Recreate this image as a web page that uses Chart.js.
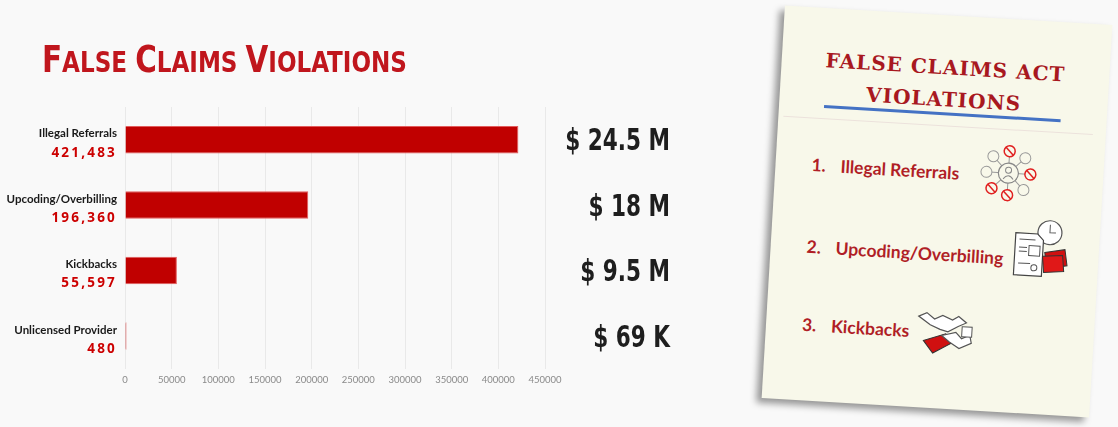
<!DOCTYPE html>
<html>
<head>
<meta charset="utf-8">
<script src="https://cdn.jsdelivr.net/npm/chart.js@4"></script>
<style>
  html, body { margin: 0; padding: 0; background: #f9f9f9; }
  body { width: 1118px; height: 427px; position: relative; overflow: hidden; }
  #chartBox { position: absolute; left: 0; top: 0; width: 740px; height: 427px; }
  .card {
    position: absolute; left: 773px; top: 15px; width: 328px; height: 393px;
    background: #f8f8ea; transform: rotate(3.4deg);
    box-shadow: -5px 5px 7px rgba(0,0,0,0.4);
  }
  .card h2 {
    position: absolute; left: 0; top: 36px; width: 100%; margin: 0;
    text-align: center; font: bold 20px/32px "DejaVu Serif", serif;
    letter-spacing: 1px; color: #a8181f;
  }
  .card .rule { position: absolute; left: 45px; top: 97px; width: 237px; height: 2.5px; background: #4472c4; }
  .card .faint { position: absolute; left: 5px; top: 110px; width: 310px; height: 1px; background: #ece2dc; }
  .item { position: absolute; left: 36px; font: bold 17.5px Lato, sans-serif; color: #b01e26; transform: translateY(-50%); }
  .item span { display: inline-block; width: 29px; }
  .card svg { position: absolute; }
</style>
</head>
<body>
<div id="chartBox"><canvas id="fcChart" width="740" height="427"></canvas></div>

<div class="card">
  <h2>FALSE CLAIMS ACT<br>VIOLATIONS</h2>
  <div class="rule"></div>
  <div class="faint"></div>
  <div class="item" style="top:157px"><span>1.</span>Illegal Referrals</div>
  <div class="item" style="top:239px"><span>2.</span>Upcoding/Overbilling</div>
  <div class="item" style="top:317px"><span>3.</span>Kickbacks</div>

  <!-- network icon -->
  <svg style="left:201px; top:122px" width="64" height="64" viewBox="-32 -32 64 64">
    <g stroke="#999" stroke-width="1" fill="none">
      <line x1="0" y1="0" x2="0" y2="-22"/><line x1="0" y1="0" x2="16" y2="-16"/>
      <line x1="0" y1="0" x2="22" y2="0"/><line x1="0" y1="0" x2="16" y2="16"/>
      <line x1="0" y1="0" x2="0" y2="22"/><line x1="0" y1="0" x2="-16" y2="16"/>
      <line x1="0" y1="0" x2="-22" y2="0"/><line x1="0" y1="0" x2="-16" y2="-16"/>
    </g>
    <circle r="10" fill="#f8f8ea" stroke="#888" stroke-width="1.2"/>
    <circle cy="-3" r="3" fill="none" stroke="#888"/><path d="M-5 6 Q0 -1 5 6" fill="none" stroke="#888"/>
    <g fill="#f8f8ea" stroke="#999" stroke-width="1">
      <circle cx="16" cy="-16" r="5.5"/><circle cx="16" cy="16" r="5.5"/>
      <circle cx="-22" cy="0" r="5.5"/><circle cx="-16" cy="-16" r="5.5"/>
    </g>
    <g fill="#f8f8ea" stroke="#e02020" stroke-width="1.5">
      <circle cx="0" cy="-22" r="5.5"/><circle cx="22" cy="0" r="5.5"/>
      <circle cx="0" cy="22" r="5.5"/><circle cx="-16" cy="16" r="5.5"/>
      <line x1="-4" y1="-26" x2="4" y2="-18"/><line x1="18" y1="-4" x2="26" y2="4"/>
      <line x1="-4" y1="18" x2="4" y2="26"/><line x1="-20" y1="12" x2="-12" y2="20"/>
    </g>
  </svg>

  <!-- invoice icon -->
  <svg style="left:240px; top:197px" width="60" height="62" viewBox="0 0 60 62">
    <circle cx="38" cy="14" r="12" fill="#fff" stroke="#555" stroke-width="1.2"/>
    <path d="M38 6 V14 H44" stroke="#555" fill="none"/>
    <path d="M4 16 H26 L32 22 V58 H4 Z" fill="#fff" stroke="#444" stroke-width="1.2"/>
    <g stroke="#555" stroke-width="1">
      <line x1="8" y1="22" x2="24" y2="22"/><line x1="8" y1="30" x2="16" y2="30"/>
      <rect x="18" y="28" width="11" height="10" fill="none"/><line x1="8" y1="34" x2="16" y2="34"/>
      <line x1="8" y1="46" x2="20" y2="46"/><circle cx="24" cy="50" r="3" fill="none"/>
    </g>
    <path d="M34 34 L54 30 L57 46 L37 50 Z" fill="#d01010" stroke="#333"/>
    <path d="M32 38 L52 36 L54 52 L34 54 Z" fill="#e01818" stroke="#333"/>
  </svg>

  <!-- handshake icon -->
  <svg style="left:150px; top:296px" width="60" height="50" viewBox="0 0 60 50">
    <path d="M2 6 L10 2 L18 8 L26 4 L36 8 L42 4 L50 10 L42 14 L32 20 L24 18 L14 14 Z" fill="#fff" stroke="#555" stroke-width="1.2"/>
    <path d="M8 30 L30 22 L38 30 L18 42 Z" fill="#d01010" stroke="#333"/>
    <path d="M26 24 L40 20 L46 26 L54 22 L56 30 L44 36 L34 30 Z" fill="#fff" stroke="#555" stroke-width="1.2"/>
    <rect x="46" y="14" width="10" height="10" fill="#fff" stroke="#555"/>
  </svg>
</div>

<script>
// categories and values
const categories = ["Illegal Referrals", "Upcoding/Overbilling", "Kickbacks", "Unlicensed Provider"];
const violationCounts = [421483, 196360, 55597, 480];
const valueLabels = ["421,483", "196,360", "55,597", "480"];
const dollarAmounts = ["$ 24.5 M", "$ 18 M", "$ 9.5 M", "$ 69 K"];
const xTicks = [0, 50000, 100000, 150000, 200000, 250000, 300000, 350000, 400000, 450000];

const titleText = "False Claims Violations";

// draws the small caps title, the two-line category labels and the dollar amounts
const labelsPlugin = {
    id: "labelsPlugin",
    afterDraw(chart) {
        const ctx = chart.ctx;
        const y = chart.scales.y;
        ctx.save();

        /* TITLE (fake small caps) */
        const bigFont = "bold 37px 'DejaVu Sans Condensed', sans-serif";
        const smallFont = "bold 29px 'DejaVu Sans Condensed', sans-serif";
        const parts = [];
        titleText.split(" ").forEach((w, i) => {
            if (i > 0) parts.push({ t: " ", f: smallFont });
            parts.push({ t: w[0].toUpperCase(), f: bigFont });
            parts.push({ t: w.slice(1).toUpperCase(), f: smallFont });
        });
        let total = 0;
        parts.forEach(p => { ctx.font = p.f; p.w = ctx.measureText(p.t).width; total += p.w; });
        ctx.translate(42, 72);
        ctx.scale(365 / total, 1);
        ctx.fillStyle = "#c0161d";
        let px = 0;
        parts.forEach(p => { ctx.font = p.f; ctx.fillText(p.t, px, 0); px += p.w; });
        ctx.restore();

        ctx.save();
        ctx.textAlign = "right";
        ctx.textBaseline = "middle";
        categories.forEach((c, i) => {
            const cy = y.getPixelForValue(i);
            ctx.fillStyle = "#1a1a1a";
            ctx.font = "bold 11.5px Lato, sans-serif";
            ctx.letterSpacing = "0px";
            ctx.fillText(c, 117, cy - 6);
            ctx.fillStyle = "#cc0000";
            ctx.font = "bold 13.5px 'Open Sans', sans-serif";
            ctx.letterSpacing = "2.2px";
            ctx.fillText(valueLabels[i], 117, cy + 13);

            // dollar amounts, condensed
            ctx.letterSpacing = "0px";
            ctx.save();
            ctx.translate(670, cy + 3);
            ctx.scale(0.8, 1);
            ctx.fillStyle = "#1e1e1e";
            ctx.font = "bold 30px 'DejaVu Sans Condensed', sans-serif";
            ctx.fillText(dollarAmounts[i], 0, 0);
            ctx.restore();
        });
        ctx.restore();
    }
};

new Chart(document.getElementById("fcChart"), {
    type: "bar",
    data: {
        labels: categories,
        datasets: [{
            data: violationCounts,
            backgroundColor: "#c00000",
            borderColor: "#e25c5c",
            borderWidth: 1,
            minBarLength: 1.5,
            categoryPercentage: 1,
            barPercentage: 0.42
        }]
    },
    options: {
        indexAxis: "y",
        responsive: false,
        animation: false,
        layout: { padding: { left: 125, right: 195, top: 107, bottom: 35 } },
        plugins: { legend: { display: false }, tooltip: { enabled: false } },
        scales: {
            x: {
                min: 0,
                max: 450000,
                afterBuildTicks: axis => { axis.ticks = xTicks.map(v => ({ value: v })); },
                ticks: {
                    color: "#8a8a8a",
                    font: { family: "Lato", size: 9.5 },
                    padding: 6,
                    callback: v => String(v)
                },
                grid: { color: "#e9e9e9", drawTicks: false },
                border: { display: false }
            },
            y: { display: false }
        }
    },
    plugins: [labelsPlugin]
});
</script>
</body>
</html>
